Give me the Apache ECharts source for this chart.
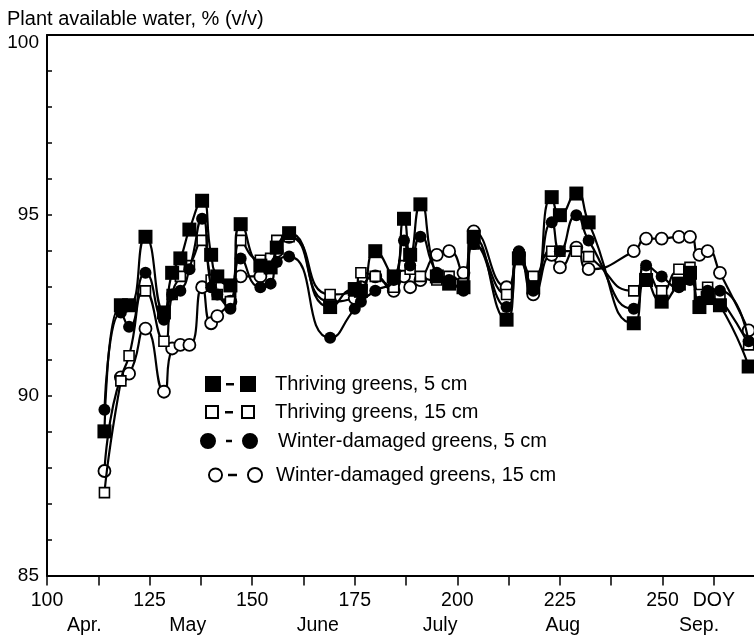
<!DOCTYPE html>
<html>
<head>
<meta charset="utf-8">
<script src="https://cdn.jsdelivr.net/npm/echarts@6/dist/echarts.min.js"></script>
<style>html,body{margin:0;padding:0;background:#fff}#c{width:754px;height:637px}</style>
</head>
<body>
<div id="c"></div>
<script>
const days = [114,118,120,124,128.5,130.5,132.5,134.7,137.8,140,141.5,144.7,147.2,152,154.5,156,159,169,175,176.5,180,184.5,187,188.5,191,195,198,201.5,204,212,215,218.5,223,225,229,232,243,246,249.8,254,256.7,259,261,264,271];
const thriving5 = [89.0,92.5,92.5,94.4,92.3,93.4,93.8,94.6,95.4,93.9,93.3,93.05,94.75,93.6,93.55,94.1,94.5,92.45,92.95,92.9,94.0,93.3,94.9,93.9,95.3,93.3,93.1,93.0,94.4,92.1,93.8,93.0,95.5,95.0,95.6,94.8,92.0,93.2,92.6,93.1,93.4,92.45,92.7,92.5,90.8];
const thriving15 = [87.3,90.4,91.1,92.9,91.5,92.8,93.3,93.6,94.3,93.2,92.8,92.6,94.3,93.75,93.8,94.3,94.4,92.8,92.9,93.4,93.3,93.0,93.6,93.5,93.3,93.2,93.3,93.1,94.2,92.8,93.9,93.3,94.0,94.0,94.0,93.85,92.9,93.4,92.9,93.5,93.55,92.8,93.0,92.7,91.4];
const winter5 = [89.6,92.3,91.9,93.4,92.1,92.8,92.9,93.5,94.9,93.0,92.8,92.4,93.8,93.0,93.1,93.7,93.85,91.6,92.4,92.6,92.9,93.2,94.3,93.6,94.4,93.4,93.2,92.9,94.2,92.45,94.0,92.9,94.8,94.0,95.0,94.3,92.4,93.6,93.3,93.0,93.2,92.6,92.9,92.9,91.5];
const winter15 = [87.9,90.5,90.6,91.85,90.1,91.3,91.4,91.4,93.0,92.0,92.2,92.6,93.3,93.3,93.6,94.0,94.4,92.6,92.7,93.0,93.3,92.9,93.3,93.0,93.2,93.9,94.0,93.4,94.55,93.0,93.9,92.8,93.9,93.55,94.1,93.5,94.0,94.35,94.35,94.4,94.4,93.9,94.0,93.4,91.8];

const seriesNames = ['Thriving greens, 5 cm','Thriving greens, 15 cm','Winter-damaged greens, 5 cm','Winter-damaged greens, 15 cm'];
const xTickValues = [100,112.5,125,137.5,150,162.5,175,187.5,200,212.5,225,237.5,250,262.5];
const xLabelValues = [100,125,150,175,200,225,250,262.5];
const xLabelTexts = ['100','125','150','175','200','225','250','DOY'];
const monthDoy = [109.1,134.3,166.0,195.8,225.7,258.9];
const monthNames = ['Apr.','May','June','July','Aug','Sep.'];
const yTickValues = [85,86,87,88,89,90,91,92,93,94,95,96,97,98,99,100];
const yLabelValues = [85,90,95,100];

const FONT = '"Liberation Sans", Arial, Helvetica, sans-serif';
const pair = arr => days.map((d,i)=>[d, arr[i]]);

const icons = [
  'path://M0,0H16V16H0Z M21,7H29V9.5H21Z M35,0H51V16H35Z',
  'path://M0,0H14V14H0Z M2,2V12H12V2Z M20,6H28V8.5H20Z M36,0H50V14H36Z M38,2V12H48V2Z',
  'path://M0,8A8,8 0 1,1 16,8A8,8 0 1,1 0,8Z M26,6.8H32V9.3H26Z M42,8A8,8 0 1,1 58,8A8,8 0 1,1 42,8Z',
  'path://M0,8A7.5,7.5 0 1,1 15,8A7.5,7.5 0 1,1 0,8Z M1.9,8A5.6,5.6 0 1,0 13.1,8A5.6,5.6 0 1,0 1.9,8Z M20,6.8H29V9.3H20Z M39,8A8,8 0 1,1 55,8A8,8 0 1,1 39,8Z M40.9,8A6.1,6.1 0 1,0 53.1,8A6.1,6.1 0 1,0 40.9,8Z'
];
const legendGeom = [
  {left:205, center:385, w:51, h:16, pad:14},
  {left:205, center:413, w:50, h:14, pad:15},
  {left:200, center:442, w:58, h:16, pad:15},
  {left:208, center:476, w:55, h:16, pad:8}
];

const legends = seriesNames.map((name,i)=>({
  show:true, orient:'vertical', left:legendGeom[i].left, top:legendGeom[i].center-11,
  padding:0, itemWidth:legendGeom[i].w, itemHeight:legendGeom[i].h, selectedMode:false,
  textStyle:{fontFamily:FONT, fontSize:20, color:'#000', padding:[0,0,0,legendGeom[i].pad]},
  data:[{name:name, icon:icons[i], itemStyle:{color:'#000', borderWidth:0, opacity:1}}]
}));

const chart = echarts.init(document.getElementById('c'), null, {renderer:'canvas'});
chart.setOption({
  animation:false,
  backgroundColor:'#fff',
  title:{text:'Plant available water, % (v/v)', left:7, top:9, padding:0,
    textStyle:{fontFamily:FONT, fontSize:20, fontWeight:'normal', color:'#000'}},
  legend:legends,
  grid:{left:47, right:0, top:35, bottom:61.5, containLabel:false},
  xAxis:[
    {type:'value', min:100, max:272.3, position:'bottom',
     axisLine:{show:true, onZero:false, lineStyle:{color:'#000', width:2}},
     axisTick:{show:true, inside:false, length:10, customValues:xTickValues, lineStyle:{color:'#000', width:1.5}},
     axisLabel:{show:true, customValues:xLabelValues, margin:15, fontFamily:FONT, fontSize:19.5, color:'#000',
       formatter:v=>{const k=xLabelValues.indexOf(v); return k>=0?xLabelTexts[k]:'';}},
     splitLine:{show:false}},
    {type:'value', min:100, max:272.3, position:'top',
     axisLine:{show:true, onZero:false, lineStyle:{color:'#000', width:2}},
     axisTick:{show:false}, axisLabel:{show:false}, splitLine:{show:false}},
    {type:'value', min:100, max:272.3, position:'bottom',
     axisLine:{show:false, onZero:false}, axisTick:{show:false},
     axisLabel:{show:true, customValues:monthDoy, margin:40, fontFamily:FONT, fontSize:19.5, color:'#000',
       formatter:v=>{const k=monthDoy.indexOf(v); return k>=0?monthNames[k]:'';}},
     splitLine:{show:false}}
  ],
  yAxis:{type:'value', min:85, max:100, position:'left',
    axisLine:{show:true, onZero:false, lineStyle:{color:'#000', width:2}},
    axisTick:{show:true, inside:true, length:5, customValues:yTickValues, lineStyle:{color:'#000', width:1.5}},
    axisLabel:{show:true, customValues:yLabelValues, margin:8, fontFamily:FONT, fontSize:19, color:'#000',
      formatter:v=> v===100 ? '{d|100}' : String(v),
      rich:{d:{fontFamily:FONT, fontSize:19, color:'#000', padding:[16,0,0,0]}}},
    splitLine:{show:false}},
  series:[
    {name:seriesNames[3], type:'line', data:pair(winter15), smooth:0.6, symbol:'circle', symbolSize:12,
     itemStyle:{color:'#fff', borderColor:'#000', borderWidth:1.8}, lineStyle:{color:'#000', width:2.2}, z:2},
    {name:seriesNames[1], type:'line', data:pair(thriving15), smooth:0.6, symbol:'rect', symbolSize:10,
     itemStyle:{color:'#fff', borderColor:'#000', borderWidth:1.6}, lineStyle:{color:'#000', width:2.2}, z:3},
    {name:seriesNames[2], type:'line', data:pair(winter5), smooth:0.6, symbol:'circle', symbolSize:12,
     itemStyle:{color:'#000', borderColor:'#000', borderWidth:0}, lineStyle:{color:'#000', width:2.2}, z:4},
    {name:seriesNames[0], type:'line', data:pair(thriving5), smooth:0.6, symbol:'rect', symbolSize:14,
     itemStyle:{color:'#000', borderColor:'#000', borderWidth:0}, lineStyle:{color:'#000', width:2.2}, z:5}
  ]
});
</script>
</body>
</html>
